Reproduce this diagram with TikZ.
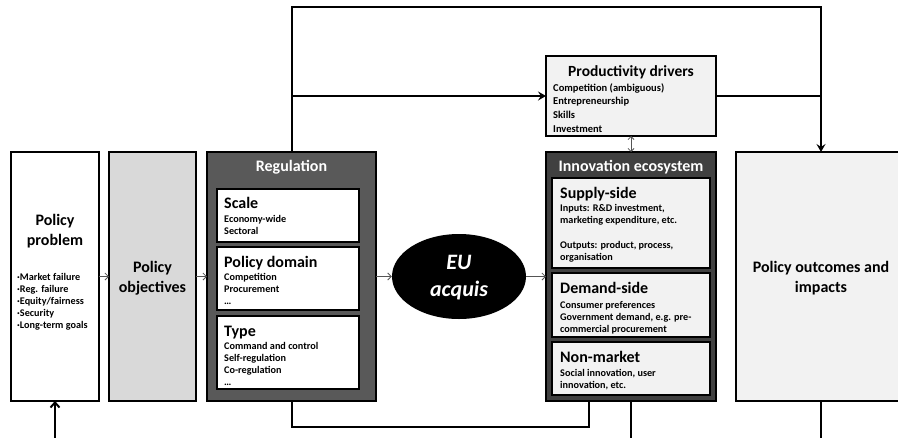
\documentclass[tikz,border=0pt]{standalone}
\usepackage{fontspec}
\setmainfont{Carlito}
\usetikzlibrary{shapes.geometric,arrows.meta,calc}

\definecolor{objgray}{HTML}{D9D9D9}
\definecolor{paleg}{HTML}{F2F2F2}
\definecolor{regdark}{HTML}{595959}
\definecolor{innodark}{HTML}{404040}
\definecolor{thinarrow}{HTML}{555555}

% multi-line nodes below are placed by the baseline of their last line
\begin{document}
\begin{tikzpicture}[x=1pt,y=-1pt,
  box/.style={draw=black,line width=2pt,anchor=north west,inner sep=0pt,outer sep=0pt},
  inbox/.style={draw=black,line width=1.8pt,anchor=north west,inner sep=0pt,outer sep=0pt},
  big/.style={font=\bfseries\fontsize{16}{20}\selectfont,inner sep=0pt},
  small/.style={font=\bfseries\fontsize{10.2}{12}\selectfont,inner sep=0pt,align=left,anchor=base west},
  head/.style={big,anchor=base west},
  conn/.style={line width=2pt,black},
  flow/.style={line width=0.8pt,thinarrow,-{Straight Barb[length=3.5pt,width=7pt]}},
  bigtip/.style={-{Stealth[length=8pt,width=9pt,inset=3pt]}}
]
\useasboundingbox (0,0) rectangle (898,437);
\clip (0,0) rectangle (898,437);

% ---- main columns ----
\node[box,fill=white,minimum width=88pt,minimum height=249pt] (problem) at (11,152) {};
\node[box,fill=objgray,minimum width=87pt,minimum height=249pt] (objectives) at (109,152) {};
\node[box,fill=regdark,minimum width=169pt,minimum height=249pt] (reg) at (207,152) {};
\node[ellipse,fill=black,minimum width=134pt,minimum height=85pt,inner sep=0pt] (eu) at (459,276.5) {};
\node[box,fill=innodark,minimum width=170pt,minimum height=249pt] (innov) at (546,152) {};
\node[box,fill=paleg,minimum width=170pt,minimum height=249pt] (outc) at (736,152) {};
\node[box,fill=paleg,minimum width=170pt,minimum height=80pt] (prod) at (546,56) {};

% ---- regulation sub-boxes ----
\node[inbox,fill=white,minimum width=142pt,minimum height=53pt] (scale) at (217,189) {};
\node[inbox,fill=white,minimum width=142pt,minimum height=63pt] (domain) at (217,247) {};
\node[inbox,fill=white,minimum width=142pt,minimum height=73pt] (type) at (217,316) {};

% ---- innovation ecosystem sub-boxes ----
\node[inbox,fill=paleg,minimum width=158pt,minimum height=90pt] (supply) at (552,178) {};
\node[inbox,fill=paleg,minimum width=158pt,minimum height=64pt] (demand) at (552,273) {};
\node[inbox,fill=paleg,minimum width=158pt,minimum height=53pt] (nonmkt) at (552,342) {};

% ---- texts ----
\node[big,align=center,anchor=base] (problemtxt) at (55,245.5) {Policy\\problem};
\node[small] (problemlist) at (17,328.5) {·Market failure\\·Reg. failure\\·Equity/fairness\\·Security\\·Long-term goals};
\node[big,align=center,anchor=base] (objtxt) at (152.5,292.5) {Policy\\objectives};

\node[big,text=white,anchor=base] (regtxt) at (291.5,171.5) {Regulation};
\node[head] (scaletxt) at (224,208.5) {Scale};
\node[small] (scalelist) at (224,234.5) {Economy-wide\\Sectoral};
\node[head] (domaintxt) at (224,267.5) {Policy domain};
\node[small] (domainlist) at (224,304.5) {Competition\\Procurement\\…};
\node[head] (typetxt) at (224,336.5) {Type};
\node[small] (typelist) at (224,385.5) {Command and control\\Self-regulation\\Co-regulation\\…};

\node[text=white,font=\bfseries\itshape\fontsize{22}{27}\selectfont,align=center,anchor=base,inner sep=0pt] (eutxt) at (459,296) {EU\\acquis};

\node[big,text=white,anchor=base] (innovtxt) at (631,171.5) {Innovation ecosystem};
\node[head] (supplytxt) at (560,198.5) {Supply-side};
\node[small,font=\bfseries\fontsize{10.2}{12.2}\selectfont] (supplylist) at (560,260.3) {Inputs: R\&D investment,\\marketing expenditure, etc.\\[12.2pt]Outputs: product, process,\\organisation};
\node[head] (demandtxt) at (560,293.5) {Demand-side};
\node[small] (demandlist) at (560,332.5) {Consumer preferences\\Government demand, e.g. pre-\\commercial procurement};
\node[head] (nonmkttxt) at (560,362.5) {Non-market};
\node[small] (nonmktlist) at (560,388.5) {Social innovation, user\\innovation, etc.};

\node[big,align=center,anchor=base] (outctxt) at (821,292.5) {Policy outcomes and\\impacts};

\node[big,font=\bfseries\fontsize{15.5}{19}\selectfont,anchor=base] (prodtxt) at (631,76.5) {Productivity drivers};
\node[small,font=\bfseries\fontsize{10.5}{13.7}\selectfont] (prodlist) at (553,132.1) {Competition (ambiguous)\\Entrepreneurship\\Skills\\Investment};

% ---- routing points ----
\coordinate (topy) at (0,7);
\coordinate (loopy) at (0,427);
\coordinate (returny) at (0,438.8);
\coordinate (innovleft) at ($(innov.south)+(-42,0)$);

% ---- main flow ----
\draw[flow] (problem.east) -- (objectives.west);
\draw[flow] (objectives.east) -- (reg.west);
\draw[flow] (reg.east) -- (eu.west);
\draw[flow] (eu.east) -- (innov.west);

% ---- regulation to productivity drivers and outcomes ----
\draw[conn,bigtip] (reg.north) -- (reg.north |- topy) -| (outc.north);
\draw[conn,bigtip] (reg.north |- prod.west) -- (prod.west);
\draw[conn] (prod.east) -- (outc.north |- prod.east);
\draw[line width=0.8pt,thinarrow,{Straight Barb[length=3pt,width=6pt]}-{Straight Barb[length=3pt,width=6pt]}] (prod.south) -- (innov.north);

% ---- lower links and the return path along the bottom edge ----
\draw[conn] (reg.south) -- (reg.south |- loopy) -| (innovleft);
\draw[conn] (innov.south) -- (innov.south |- returny);
\draw[conn,-{Straight Barb[length=5pt,width=9pt]}] (outc.south) -- (outc.south |- returny) -| (problem.south);
\end{tikzpicture}
\end{document}
